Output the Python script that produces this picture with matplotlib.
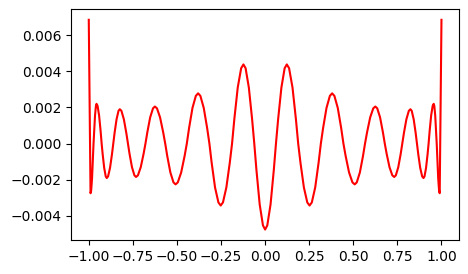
import numpy as np
import matplotlib
matplotlib.use("Agg")
import matplotlib.pyplot as plt

# sample positions (left half then right half)
x_left = [-1.000, -0.990, -0.9866, -0.9815, -0.973, -0.9645, -0.9594, -0.956,
          -0.9502, -0.9415, -0.9328, -0.927, -0.9212, -0.9125, -0.9038, -0.898,
          -0.8906, -0.8795, -0.8684, -0.861, -0.8536, -0.8425, -0.8314, -0.824,
          -0.8148, -0.801, -0.7872, -0.778, -0.7688, -0.755, -0.7412, -0.732,
          -0.7213, -0.7053, -0.6892, -0.6785, -0.6678, -0.6518, -0.6357, -0.625,
          -0.6133, -0.5958, -0.5782, -0.5665, -0.5548, -0.5373, -0.5197, -0.508,
          -0.4952, -0.476, -0.4568, -0.444, -0.4312, -0.412, -0.3928, -0.380,
          -0.3672, -0.348, -0.3288, -0.316, -0.3032, -0.284, -0.2648, -0.252,
          -0.2391, -0.2198, -0.2004, -0.1875, -0.1746, -0.1553, -0.1359, -0.123,
          -0.1107, -0.0923, -0.0738, -0.0615, -0.0492, -0.0308, -0.0123, 0.000]
x_right = [0.0123, 0.0308, 0.0492, 0.0615, 0.0738, 0.0923, 0.1107,
           0.123, 0.1359, 0.1553, 0.1746, 0.1875, 0.2004, 0.2198, 0.2391,
           0.252, 0.2648, 0.284, 0.3032, 0.316, 0.3288, 0.348, 0.3672,
           0.380, 0.3928, 0.412, 0.4312, 0.444, 0.4568, 0.476, 0.4952,
           0.508, 0.5197, 0.5373, 0.5548, 0.5665, 0.5782, 0.5958, 0.6133,
           0.625, 0.6357, 0.6518, 0.6678, 0.6785, 0.6892, 0.7053, 0.7213,
           0.732, 0.7412, 0.755, 0.7688, 0.778, 0.7872, 0.801, 0.8148,
           0.824, 0.8314, 0.8425, 0.8536, 0.861, 0.8684, 0.8795, 0.8906,
           0.898, 0.9038, 0.9125, 0.9212, 0.927, 0.9328, 0.9415, 0.9502,
           0.956, 0.9594, 0.9645, 0.973, 0.9815, 0.9866, 0.990, 1.000]

# error values in units of 1e-3
err_left = [6.85, -2.75, -2.62, -1.94, 0, 1.56, 2.09, 2.20,
            2.09, 1.56, 0.68, 0, -0.59, -1.35, -1.82, -1.91,
            -1.82, -1.35, -0.59, 0, 0.59, 1.34, 1.81, 1.90,
            1.81, 1.34, 0.59, 0, -0.57, -1.31, -1.76, -1.85,
            -1.76, -1.31, -0.57, 0, 0.63, 1.45, 1.95, 2.05,
            1.95, 1.45, 0.63, 0, -0.70, -1.60, -2.15, -2.26,
            -2.15, -1.60, -0.70, 0, 0.86, 1.97, 2.64, 2.78,
            2.64, 1.97, 0.86, 0, -1.06, -2.43, -3.26, -3.43,
            -3.26, -2.43, -1.06, 0, 1.35, 3.10, 4.17, 4.38,
            4.17, 3.10, 1.35, 0, -1.47, -3.37, -4.53, -4.76]
err_right = [-4.53, -3.37, -1.47, 0, 1.35, 3.10, 4.17,
             4.38, 4.17, 3.10, 1.35, 0, -1.06, -2.43, -3.26,
             -3.43, -3.26, -2.43, -1.06, 0, 0.86, 1.97, 2.64,
             2.78, 2.64, 1.97, 0.86, 0, -0.70, -1.60, -2.15,
             -2.26, -2.15, -1.60, -0.70, 0, 0.63, 1.45, 1.95,
             2.05, 1.95, 1.45, 0.63, 0, -0.57, -1.31, -1.76,
             -1.85, -1.76, -1.31, -0.57, 0, 0.59, 1.34, 1.81,
             1.90, 1.81, 1.34, 0.59, 0, -0.59, -1.35, -1.82,
             -1.91, -1.82, -1.35, -0.59, 0, 0.68, 1.56, 2.09,
             2.20, 2.09, 1.56, 0, -1.94, -2.62, -2.75, 6.85]

x = np.array(x_left + x_right)
err = np.array(err_left + err_right) * 1e-3

fig = plt.figure(figsize=(4.68, 2.74), dpi=100)
ax = fig.add_axes([0.152, 0.124, 0.829, 0.842])
ax.plot(x, err, color='red', linewidth=1.5)

fig.savefig('out.png', dpi=100)
